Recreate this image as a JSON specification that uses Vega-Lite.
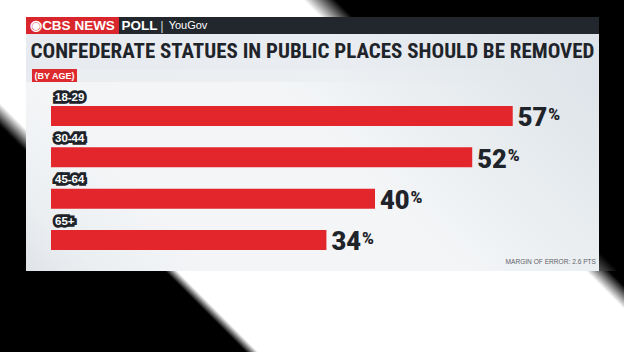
{
  "$schema": "https://vega.github.io/schema/vega-lite/v6.json",
  "padding": 0,
  "background": "#000000",
  "config": {"view": {"stroke": null}, "concat": {"spacing": 0}},
  "spacing": 0,
  "vconcat": [
    {
      "width": 624, "height": 17,
      "data": {"values": [{"k": 1}]},
      "mark": {"type": "rect", "fill": {"gradient": "linear", "x1": 0, "y1": 1, "x2": 1.0265, "y2": 0.972,
        "stops": [{"offset": 0, "color": "#ffffff"}, {"offset": 0.5, "color": "#ffffff"}, {"offset": 0.55, "color": "#000000"}, {"offset": 1, "color": "#000000"}]}}
    },
    {
      "spacing": 0,
      "hconcat": [
        {
          "width": 26, "height": 254,
          "data": {"values": [{"k": 1}]},
          "mark": {"type": "rect", "fill": {"gradient": "linear", "x1": 0, "y1": 1, "x2": 0.1117, "y2": -0.0909,
            "stops": [{"offset": 0, "color": "#000000"}, {"offset": 0.52, "color": "#000000"}, {"offset": 0.6, "color": "#ffffff"}, {"offset": 1, "color": "#ffffff"}]}}
        },
        {
          "spacing": 0,
          "vconcat": [
            {
              "spacing": 0,
              "hconcat": [
                {"width": 93, "height": 17, "view": {"fill": "#d9262c", "stroke": null},
                 "data": {"values": [{"k": 1}]},
                 "mark": {"type": "text", "text": "◉CBS NEWS", "font": "Liberation Sans", "fontWeight": "bold", "fontSize": 13.5, "fill": "#ffffff", "baseline": "middle"}},
                {"width": 41, "height": 17, "view": {"fill": "#22272e", "stroke": null},
                 "data": {"values": [{"k": 1}]},
                 "mark": {"type": "text", "text": "POLL", "font": "Liberation Sans", "fontWeight": "bold", "fontSize": 13.5, "fill": "#ffffff", "baseline": "middle"}},
                {"width": 4, "height": 17, "view": {"fill": "#22272e", "stroke": null},
                 "data": {"values": [{"k": 1}]},
                 "mark": {"type": "text", "text": "|", "font": "Liberation Sans", "fontSize": 13, "fill": "#c8ccd0", "baseline": "middle"}},
                {"width": 48, "height": 17, "view": {"fill": "#22272e", "stroke": null},
                 "data": {"values": [{"k": 1}]},
                 "mark": {"type": "text", "text": "YouGov", "font": "Liberation Sans", "fontSize": 11, "fill": "#ffffff", "baseline": "middle"}},
                {"width": 387, "height": 17, "view": {"fill": "#22272e", "stroke": null},
                 "data": {"values": [{"k": 1}]},
                 "mark": {"type": "text", "text": ""}}
              ]
            },
            {
              "width": 573, "height": 35,
              "data": {"values": [{"k": 1}]},
              "layer": [
                {"mark": {"type": "rect", "fill": {"gradient": "linear", "x1": 0, "y1": 1, "x2": 1.0571, "y2": 0.9354,
                  "stops": [{"offset": 0, "color": "#e7ebef"}, {"offset": 0.55, "color": "#e9edf1"}, {"offset": 1, "color": "#dde3e8"}]}}},
                {"mark": {"type": "text", "text": "CONFEDERATE STATUES IN PUBLIC PLACES SHOULD BE REMOVED", "font": "Roboto Condensed, DejaVu Sans Condensed", "fontWeight": "bold", "fontSize": 21, "limit": 572, "fill": "#1f242b", "baseline": "middle"}}
              ]
            },
            {
              "spacing": 0,
              "hconcat": [
                {"width": 6, "height": 13, "view": {"fill": "#e8ecf0", "stroke": null},
                 "data": {"values": [{"k": 1}]}, "mark": {"type": "text", "text": ""}},
                {"width": 45, "height": 13, "view": {"fill": "#dd2a2f", "stroke": null},
                 "data": {"values": [{"k": 1}]},
                 "mark": {"type": "text", "text": "(BY AGE)", "font": "Liberation Sans", "fontWeight": "bold", "fontSize": 9, "fill": "#ffffff", "baseline": "middle"}},
                {"width": 522, "height": 13,
                 "data": {"values": [{"k": 1}]},
                 "mark": {"type": "rect", "fill": {"gradient": "linear", "x1": 0, "y1": 1, "x2": 1.0243, "y2": 0.9745,
                   "stops": [{"offset": 0, "color": "#eaeef1"}, {"offset": 0.5, "color": "#edf0f3"}, {"offset": 1, "color": "#dee4e9"}]}}}
              ]
            },
            {
              "width": 573, "height": 189,
              "view": {"stroke": null, "fill": {"gradient": "linear", "x1": 0, "y1": 1, "x2": 1.1993, "y2": 0.6044,
                "stops": [{"offset": 0, "color": "#e0e4e8"}, {"offset": 0.1, "color": "#eceff2"}, {"offset": 0.25, "color": "#f3f5f7"}, {"offset": 0.58, "color": "#f3f5f7"}, {"offset": 0.78, "color": "#e9edf0"}, {"offset": 1, "color": "#dee4e9"}]}},
              "title": {"text": "MARGIN OF ERROR: 2.6 PTS", "orient": "bottom", "anchor": "end", "offset": -12, "dx": -3, "fontSize": 6.6, "font": "Liberation Sans", "fontWeight": "normal", "color": "#5e646b"},
              "data": {"values": [
                {"age": "18-29", "pct": 57},
                {"age": "30-44", "pct": 52},
                {"age": "45-64", "pct": 40},
                {"age": "65+", "pct": 34}
              ]},
              "encoding": {
                "y": {"field": "age", "type": "nominal", "sort": null, "axis": null,
                      "scale": {"paddingInner": 0.516, "paddingOuter": 0.5444, "align": 0.533}}
              },
              "layer": [
                {
                  "mark": {"type": "bar", "color": "#e3262c"},
                  "encoding": {
                    "x": {"field": "pct", "type": "quantitative", "axis": null,
                          "scale": {"domain": [-3.086, 67.65], "nice": false, "zero": false}},
                    "x2": {"datum": 0}
                  }
                },
                {
                  "mark": {"type": "text", "align": "left", "baseline": "alphabetic", "dx": 4, "dy": -15.3, "font": "Liberation Sans", "fontWeight": "bold", "fontSize": 11.5, "fill": "#1e2329", "stroke": "#1e2329", "strokeWidth": 5.5, "strokeJoin": "miter", "strokeMiterLimit": 1.5},
                  "encoding": {"x": {"datum": 0}, "text": {"field": "age"}}
                },
                {
                  "mark": {"type": "text", "align": "left", "baseline": "alphabetic", "dx": 4, "dy": -15.3, "font": "Liberation Sans", "fontWeight": "bold", "fontSize": 11.5, "fill": "#ffffff"},
                  "encoding": {"x": {"datum": 0}, "text": {"field": "age"}}
                },
                {
                  "mark": {"type": "text", "align": "left", "baseline": "alphabetic", "dx": 5, "dy": 10.5, "font": "Roboto", "fontWeight": 900, "fontSize": 25.5, "fill": "#1f242b"},
                  "encoding": {"x": {"field": "pct", "type": "quantitative"}, "text": {"field": "pct"}}
                },
                {
                  "mark": {"type": "text", "align": "left", "baseline": "alphabetic", "dx": 35.5, "dy": 4, "font": "Roboto", "fontWeight": 900, "fontSize": 16, "fill": "#1f242b", "text": "%"},
                  "encoding": {"x": {"field": "pct", "type": "quantitative"}}
                }
              ]
            }
          ]
        },
        {
          "width": 25, "height": 254,
          "data": {"values": [{"k": 1}]},
          "mark": {"type": "rect", "fill": {"gradient": "linear", "x1": 0, "y1": 1, "x2": 0.1071, "y2": -0.0879,
            "stops": [{"offset": 0, "color": "#555555"}, {"offset": 0.07, "color": "#000000"}, {"offset": 1, "color": "#000000"}]}}
        }
      ]
    },
    {
      "width": 624, "height": 81,
      "data": {"values": [{"k": 1}]},
      "mark": {"type": "rect", "fill": {"gradient": "linear", "x1": 0, "y1": 1, "x2": 1.1111, "y2": 0.8558,
        "stops": [{"offset": 0, "color": "#000000"}, {"offset": 0.349, "color": "#000000"}, {"offset": 0.366, "color": "#ffffff"}, {"offset": 0.946, "color": "#ffffff"}, {"offset": 0.979, "color": "#000000"}, {"offset": 1, "color": "#000000"}]}}
    }
  ]
}
